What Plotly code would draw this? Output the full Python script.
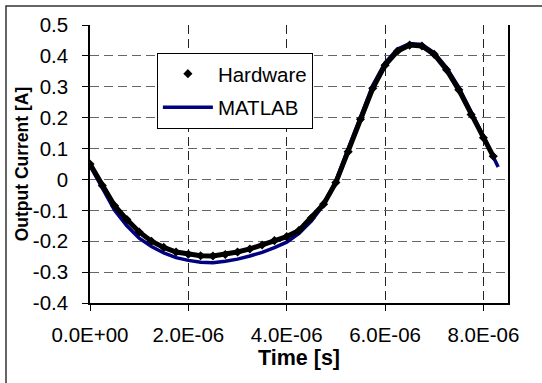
import plotly.graph_objects as go

# Time values (seconds) and currents (A)
hw_t = [0.0, 0.25e-6, 0.5e-6, 0.75e-6, 1.0e-6, 1.25e-6, 1.5e-6, 1.75e-6, 2.0e-6, 2.25e-6,
        2.5e-6, 2.75e-6, 3.0e-6, 3.25e-6, 3.5e-6, 3.75e-6, 4.0e-6, 4.25e-6, 4.5e-6, 4.75e-6,
        5.0e-6, 5.25e-6, 5.5e-6, 5.75e-6, 6.0e-6, 6.25e-6, 6.5e-6, 6.75e-6, 7.0e-6, 7.25e-6,
        7.5e-6, 7.75e-6, 8.0e-6, 8.2e-6]
hw_i = [0.05, -0.02, -0.085, -0.13, -0.17, -0.20, -0.22, -0.235, -0.242, -0.247,
        -0.248, -0.243, -0.235, -0.225, -0.212, -0.198, -0.185, -0.165, -0.125, -0.08,
        -0.01, 0.09, 0.195, 0.295, 0.37, 0.415, 0.435, 0.432, 0.405, 0.355,
        0.29, 0.21, 0.135, 0.075]

ml_t = [0.0, 0.25e-6, 0.5e-6, 0.75e-6, 1.0e-6, 1.25e-6, 1.5e-6, 1.75e-6, 2.0e-6, 2.25e-6,
        2.5e-6, 2.75e-6, 3.0e-6, 3.25e-6, 3.5e-6, 3.75e-6, 4.0e-6, 4.25e-6, 4.5e-6, 4.75e-6,
        5.0e-6, 5.25e-6, 5.5e-6, 5.75e-6, 6.0e-6, 6.25e-6, 6.5e-6, 6.75e-6, 7.0e-6, 7.25e-6,
        7.5e-6, 7.75e-6, 8.0e-6, 8.3e-6]
ml_i = [0.045, -0.03, -0.10, -0.15, -0.19, -0.217, -0.238, -0.253, -0.262, -0.268,
        -0.27, -0.265, -0.258, -0.248, -0.236, -0.221, -0.203, -0.175, -0.135, -0.082,
        -0.005, 0.10, 0.205, 0.305, 0.378, 0.422, 0.44, 0.437, 0.41, 0.362,
        0.298, 0.22, 0.14, 0.04]

x_ticks = [0, 2e-6, 4e-6, 6e-6, 8e-6]
x_labels = ["0.0E+00", "2.0E-06", "4.0E-06", "6.0E-06", "8.0E-06"]
y_ticks = [-0.4, -0.3, -0.2, -0.1, 0, 0.1, 0.2, 0.3, 0.4, 0.5]
y_labels = ["-0.4", "-0.3", "-0.2", "-0.1", "0", "0.1", "0.2", "0.3", "0.4", "0.5"]

FONT = "Liberation Sans, Arial, sans-serif"

fig = go.Figure()
fig.add_trace(go.Scatter(x=ml_t, y=ml_i, mode="lines", name="MATLAB",
                         line=dict(color="#000080", width=3.5),
                         legendrank=2, legendgroup="b"))
fig.add_trace(go.Scatter(x=hw_t, y=hw_i, mode="lines", showlegend=False,
                         line=dict(color="black", width=5)))
fig.add_trace(go.Scatter(x=hw_t, y=hw_i, mode="markers", name="Hardware",
                         marker=dict(symbol="diamond", size=7, color="black"),
                         legendrank=1, legendgroup="a"))

fig.update_layout(
    width=542, height=383,
    margin=dict(l=90, r=34, t=25, b=80),
    paper_bgcolor="white", plot_bgcolor="white",
    font=dict(family=FONT, size=20.5, color="black"),
    showlegend=True,
    legend=dict(x=0.16, y=0.90, xanchor="left", yanchor="top",
                bgcolor="white", bordercolor="black", borderwidth=1,
                font=dict(size=20.5), traceorder="grouped", tracegroupgap=4,
                itemwidth=50),
    xaxis=dict(range=[0, 8.5e-6], tickvals=x_ticks, ticktext=x_labels,
               showline=True, linecolor="black", linewidth=1.5,
               ticks="outside", ticklen=6, tickcolor="black",
               showgrid=True, gridcolor="#222", griddash="9px,5px", gridwidth=1,
               zeroline=False, ticklabelstandoff=7,
               title=dict(text="<b>Time [s]</b>", standoff=4, font=dict(size=21.5))),
    yaxis=dict(range=[-0.4, 0.5], tickvals=y_ticks, ticktext=y_labels,
               showline=True, linecolor="black", linewidth=1.5, mirror=True,
               ticks="outside", ticklen=6, tickcolor="black",
               showgrid=True, gridcolor="#666", griddash="9px,5px", gridwidth=1,
               zeroline=False, ticklabelstandoff=10,
               title=dict(text="<b>Output Current [A]</b>", standoff=0, font=dict(size=17.5))),
)

# outer chart border (cropped on right/bottom in reference)
fig.add_shape(type="rect", xref="paper", yref="paper",
              x0=(6 - 90) / 418, x1=(560 - 90) / 418,
              y0=(303 - 400) / 278, y1=(303 - 6) / 278,
              line=dict(color="#333", width=1.5), fillcolor="rgba(0,0,0,0)", layer="below")

fig.write_html("out.html")
